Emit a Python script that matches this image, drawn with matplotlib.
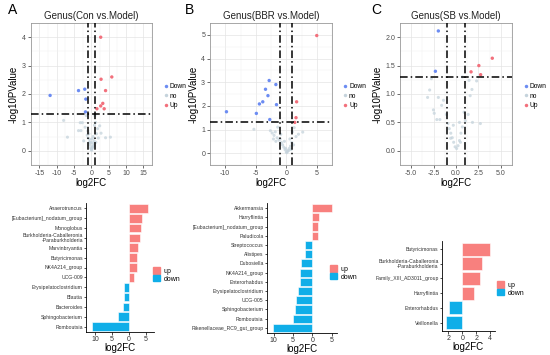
import numpy as np
import matplotlib
matplotlib.use('Agg')
import matplotlib.pyplot as plt
from matplotlib.patches import Patch
from matplotlib.lines import Line2D
from matplotlib.ticker import FixedLocator, FixedFormatter

plt.rcParams['font.family'] = ['Liberation Sans', 'DejaVu Sans']

#%% volcano data
A_down_x = [-11.9, -3.7, -1.9, -1.6, -1.7]
A_down_y = [1.95, 2.12, 2.17, 1.82, 1.37]
A_up_x = [2.7, 2.8, 5.9, 4.1, 3.3, 2.7, 3.7, 1.6]
A_up_y = [4.0, 2.52, 2.6, 2.12, 1.67, 1.58, 1.48, 1.48]
A_no_x = [-8.0, -6.9, -3.7, -3.0, -3.2, -2.6, -1.5, -1.8, -1.2, -0.9, -0.6, -0.4, -0.2, 0.0,
          0.2, 0.4, 0.6, 0.8, 1.0, 1.2, 1.8, 2.4, 2.8, 4.1, 5.5, 1.5, -1.0, -0.5, 0.1, 0.3,
          0.5, -0.3, 0.9, 1.3, -2.2, 2.0, 0.7, -0.7, 0.0, 0.2]
A_no_y = [1.07, 0.48, 0.71, 0.71, 0.99, 0.99, 1.24, 0.83, 0.55, 0.45, 0.3, 0.2, 0.1, 0.05,
          0.08, 0.15, 0.25, 0.35, 1.24, 1.0, 0.78, 0.88, 0.62, 0.46, 0.48, 0.6, 0.7, 0.4, 0.02, 0.12,
          0.5, 0.28, 0.9, 0.3, 0.35, 0.45, 0.18, 0.6, 0.3, 0.42]

B_down_x = [-9.8, -4.9, -4.4, -3.85, -3.4, -3.0, -2.8, -1.7, -1.6, -2.7]
B_down_y = [1.75, 1.68, 2.08, 2.17, 2.7, 2.43, 3.07, 2.9, 2.05, 1.42]
B_up_x = [5.0, 1.7, 1.6, 1.4]
B_up_y = [4.97, 2.17, 1.5, 1.3]
B_no_x = [-5.3, -2.6, -2.3, -2.0, -1.8, -1.5, -1.2, -1.0, -0.8, -0.6, -0.4, -0.2, 0.0, 0.1,
          0.3, 0.5, 0.7, 0.9, 1.0, 1.3, 1.6, 2.0, 2.7, -1.4, -0.9, -0.3, 0.2, 0.4, -0.1, 0.6,
          1.2, -2.1, -1.7, 0.8]
B_no_y = [1.01, 0.95, 0.85, 0.75, 0.9, 0.65, 0.55, 0.6, 0.45, 0.35, 0.25, 0.15, 0.05, 0.02,
          0.1, 0.2, 0.3, 0.45, 0.9, 1.08, 0.7, 0.8, 0.89, 1.1, 0.8, 0.5, 0.08, 0.12, 0.2, 0.6,
          0.35, 0.6, 0.5, 0.15]

C_down_x = [-1.97, -2.3]
C_down_y = [2.11, 1.40]
C_up_x = [1.68, 2.55, 2.75, 4.05]
C_up_y = [1.39, 1.50, 1.34, 1.63]
C_no_x = [-2.75, -2.94, -3.17, -2.52, -2.43, -2.14, -1.8, -1.6, -1.97, -1.4, -1.07, -0.9, -0.75,
          -0.58, -0.42, -0.26, -0.1, 0.07, 0.23, 0.39, 0.55, 0.71, 0.39, 1.04, 1.36, 1.84, 2.72,
          1.58, 1.78, 0.71, 1.46, 2.3, -0.3, -0.6, 0.5, 0.9]
C_no_y = [1.27, 1.07, 0.94, 0.72, 0.66, 0.55, 0.55, 0.8, 0.94, 0.89, 0.64, 0.48, 0.39,
          0.31, 0.23, 0.15, 0.07, 0.04, 0.09, 0.18, 0.31, 0.42, 0.5, 0.53, 0.64, 0.5, 0.48,
          0.97, 1.08, 1.3, 1.24, 1.23, 0.45, 0.22, 0.15, 0.68]

#%% bar data
A_genus = ['Anaerotruncus', '[Eubacterium]_nodatum_group', 'Monoglobus',
           'Burkholderia-Caballeronia\n-Paraburkholderia', 'Marvinbryantia', 'Butyricimonas',
           'NK4A214_group', 'UCG-009', 'Erysipelatoclostridium', 'Blautia', 'Bacteroides',
           'Sphingobacterium', 'Romboutsia']
A_fc = [5.7, 3.9, 3.5, 3.2, 2.8, 2.5, 2.5, 1.6, -1.4, -1.4, -1.7, -3.3, -10.9]

B_genus = ['Akkermansia', 'Harryflintia', '[Eubacterium]_nodatum_group', 'Paludicola',
           'Streptococcus', 'Alistipes', 'Dubosiella', 'NK4A214_group', 'Enterorhabdus',
           'Erysipelatoclostridium', 'UCG-005', 'Sphingobacterium', 'Romboutsia',
           'Rikenellaceae_RC9_gut_group']
B_fc = [5.0, 1.7, 1.55, 1.3, -1.8, -1.85, -2.9, -3.1, -3.2, -3.7, -4.2, -4.6, -5.1, -10.3]

C_genus = ['Butyricimonas', 'Burkholderia-Caballeronia\n-Paraburkholderia',
           'Family_XIII_AD3011_group', 'Harryflintia', 'Enterorhabdus', 'Veillonella']
C_fc = [4.0, 2.8, 2.57, 1.67, -1.94, -2.3]

#%% style
W, H = 550, 355
c_down = '#6c8cf2'
c_up = '#f2707c'
c_no = '#c5d3dc'
bar_up = '#f8807e'
bar_down = '#10aee8'
dashes = (5, 2, 1, 2)

fig = plt.figure(figsize=(W / 100, H / 100), dpi=100)


def px_axes(l, t, r, b):
    return fig.add_axes([l / W, 1 - b / H, (r - l) / W, (b - t) / H])


def volcano(box, title, xlim, ylim, xt, yt, fmt, data, leg_xy):
    ax = px_axes(*box)
    nx, ny, dx, dy, ux, uy = data
    ax.scatter(nx, ny, s=5, c=c_no, alpha=0.75, edgecolors='none', zorder=3)
    ax.scatter(dx, dy, s=6, c=c_down, edgecolors='none', zorder=4)
    ax.scatter(ux, uy, s=6, c=c_up, edgecolors='none', zorder=4)
    for v in (-1, 1):
        ax.axvline(v, color='black', lw=1.1, dashes=dashes, zorder=5)
    ax.axhline(-np.log10(0.05), color='black', lw=1.1, dashes=dashes, zorder=5)
    ax.set_xlim(*xlim)
    ax.set_ylim(*ylim)
    ax.set_xticks(xt)
    ax.set_xticklabels([fmt.format(v) for v in xt])
    ax.set_yticks(yt)
    ax.set_yticklabels([fmt.format(v) for v in yt])
    xs = xt[1] - xt[0]
    ys = yt[1] - yt[0]
    ax.set_xticks(np.arange(xt[0] - xs / 2, xt[-1] + xs, xs), minor=True)
    ax.set_yticks(np.arange(yt[0] - ys / 2, yt[-1] + ys, ys), minor=True)
    ax.grid(which='major', color='#e4e4e4', lw=0.5, zorder=0)
    ax.grid(which='minor', color='#f2f2f2', lw=0.35, zorder=0)
    ax.tick_params(which='minor', length=0)
    ax.tick_params(which='major', length=2, width=0.5, color='#333333',
                   labelsize=5, labelcolor='#4d4d4d', pad=1.5)
    for s in ax.spines.values():
        s.set_color('#999999')
        s.set_linewidth(0.6)
    ax.set_title(title, fontsize=7, pad=3, color='#222222')
    ax.set_xlabel('log2FC', fontsize=7, labelpad=1)
    ax.set_ylabel('-log10PValue', fontsize=7, labelpad=2)
    ax.set_axisbelow(True)
    hs = [Line2D([], [], ls='none', marker='o', ms=2.5, mec='none', color=c)
          for c in (c_down, c_no, c_up)]
    fig.legend(hs, ['Down', 'no', 'Up'], loc='center left',
               bbox_to_anchor=(leg_xy[0] / W, 1 - leg_xy[1] / H), frameon=False,
               fontsize=4.8, handlelength=0.6, handletextpad=0.3, labelspacing=0.35,
               borderpad=0, borderaxespad=0)
    return ax


def barplot(box, genus, fc, xlim, xt, leg_xy):
    ax = px_axes(*box)
    n = len(genus)
    ypos = np.arange(n)[::-1]
    cols = [bar_up if v > 0 else bar_down for v in fc]
    ax.barh(ypos, fc, height=0.88, color=cols, edgecolor='white', linewidth=0.4)
    ax.set_ylim(-0.55, n - 0.45)
    ax.set_xlim(*xlim)
    ax.set_yticks(ypos)
    ax.set_yticklabels(genus, fontsize=3.7, color='#333333', linespacing=0.95)
    ax.xaxis.set_major_locator(FixedLocator(xt))
    ax.xaxis.set_major_formatter(FixedFormatter([str(abs(v)) for v in xt]))
    ax.tick_params(axis='y', length=1.5, width=0.5, pad=0.8)
    ax.tick_params(axis='x', length=2, width=0.5, labelsize=5, pad=1, labelcolor='#333333')
    for s in ('top', 'right'):
        ax.spines[s].set_visible(False)
    for s in ('left', 'bottom'):
        ax.spines[s].set_linewidth(0.6)
    ax.set_xlabel('log2FC', fontsize=7, labelpad=0)
    hs = [Patch(color=bar_up), Patch(color=bar_down)]
    fig.legend(hs, ['up', 'down'], loc='center left',
               bbox_to_anchor=(leg_xy[0] / W, 1 - leg_xy[1] / H), frameon=False,
               fontsize=5, handlelength=1.0, handleheight=1.0, handletextpad=0.5,
               labelspacing=0.05, borderpad=0, borderaxespad=0)
    return ax


volcano((30.7, 23, 152, 165), 'Genus(Con vs.Model)', (-15.3, 15.1), (-0.13, 4.2),
        [-15, -10, -5, 0, 5, 10, 15], [0, 1, 2, 3, 4], '{:g}',
        (A_no_x, A_no_y, A_down_x, A_down_y, A_up_x, A_up_y), (164, 96))
volcano((210, 23, 332, 165), 'Genus(BBR vs.Model)', (-11.8, 6.7), (-0.19, 5.2),
        [-10, -5, 0, 5], [0, 1, 2, 3, 4, 5], '{:g}',
        (B_no_x, B_no_y, B_down_x, B_down_y, B_up_x, B_up_y), (343, 96))
volcano((400, 23, 512, 165), 'Genus(SB vs.Model)', (-5.4, 5.4), (-0.1, 2.235),
        [-5.0, -2.5, 0.0, 2.5, 5.0], [0.0, 0.5, 1.0, 1.5, 2.0], '{:.1f}',
        (C_no_x, C_no_y, C_down_x, C_down_y, C_up_x, C_up_y), (524, 96))

barplot((86, 203, 154, 332), A_genus, A_fc, (-12.6, 7.35), [-10, -5, 0, 5], (153, 275))
barplot((266.7, 203, 337.3, 333), B_genus, B_fc, (-11.8, 6.4), [-10, -5, 0, 5], (330, 273))
barplot((441.7, 241, 495, 330.7), C_genus, C_fc, (-2.94, 4.67), [-2, 0, 2, 4], (497, 289))

for lab, x in (('A', 8), ('B', 185), ('C', 371)):
    fig.text(x / W, 1 - 10 / H, lab, fontsize=10, va='center', ha='left')

fig.savefig('out.png', dpi=100)
